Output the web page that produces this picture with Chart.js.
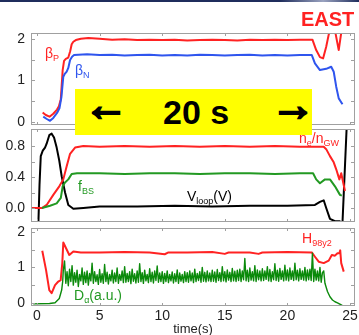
<!DOCTYPE html>
<html>
<head>
<meta charset="utf-8">
<script src="https://cdn.jsdelivr.net/npm/chart.js@4.4.1/dist/chart.umd.min.js"></script>
<style>
    html, body { margin: 0; padding: 0; background: #fff; }
    #wrap { position: relative; width: 359px; height: 335px; overflow: hidden; font-family: "Liberation Sans", Arial, sans-serif; }
    canvas { position: absolute; left: 0; top: 0; }
    .lbl { position: absolute; font-size: 14px; line-height: 14px; white-space: nowrap; }
    .lbl sub { font-size: 9px; vertical-align: -3px; line-height: 0; }
    #topbar { position: absolute; left: 0; top: 0; width: 359px; height: 2px;
              background: linear-gradient(to right, #1f2d5c 0%, #1f2d5c 78%, #9aa3c0 90%, #1f2d5c 100%); }
    #east { position: absolute; left: 301px; top: 9px; color: #ff2222; font-family: "Liberation Sans Narrow", "Liberation Sans", sans-serif;
            font-weight: bold; font-size: 20px; line-height: 20px; }
    #box { position: absolute; left: 75px; top: 89px; width: 237px; height: 46px; background: #ffff00; overflow: hidden; }
    #box span { position: absolute; top: 4px; font-weight: bold; font-size: 34px; line-height: 38px; color: #000; }
    #box span.arr { font-size: 44px; line-height: 44px; top: -6px; -webkit-text-stroke: 2.4px #000; }
</style>
</head>
<body>
<div id="wrap">
    <canvas id="p1" width="359" height="335"></canvas>
    <canvas id="p2" width="359" height="335"></canvas>
    <canvas id="p3" width="359" height="335"></canvas>
    <div id="topbar"></div>
    <div id="east">EAST</div>
    <div id="box">
        <span class="arr" style="left:9px">←</span>
        <span style="left:88px">20 s</span>
        <span class="arr" style="left:196px">→</span>
    </div>
    <div class="lbl" style="left:45px;top:46px;color:#ff2222">β<sub>P</sub></div>
    <div class="lbl" style="left:75px;top:63px;color:#2f55ee">β<sub>N</sub></div>
    <div class="lbl" style="left:78px;top:179px;color:#229922">f<sub>BS</sub></div>
    <div class="lbl" style="left:299px;top:131px;color:#ff2222">n<sub>e</sub>/n<sub>GW</sub></div>
    <div class="lbl" style="left:187px;top:189px;color:#000">V<sub>loop</sub>(V)</div>
    <div class="lbl" style="left:302px;top:231px;color:#ff2222">H<sub>98y2</sub></div>
    <div class="lbl" style="left:74px;top:288px;color:#229922">D<sub>α</sub>(a.u.)</div>
</div>
<script>
    // time axis
    var timeMin = -0.48, timeMax = 25.4;
    var timeTicks = [0, 5, 10, 15, 20, 25];

    // panel 1: beta_p, beta_N
    var betaPTime = [0.45, 0.7, 1.0, 1.3, 1.6, 1.75, 1.9, 1.97, 2.05, 2.16, 2.3, 2.5, 2.65, 2.77, 2.9, 3.1, 3.5, 4.1, 5, 6,
        7, 8, 9, 10, 11, 12, 13, 14, 15, 16, 17, 18, 19, 20, 21, 22, 22.3, 22.6, 22.85, 23.1, 23.3, 23.45, 23.8, 24.1, 24.35];
    var betaPVal = [0.23, 0.17, 0.13, 0.2, 0.3, 0.38, 0.55, 0.87, 1.25, 1.47, 1.52, 1.55, 1.7, 1.87, 1.93, 1.97, 2.0, 2.02, 2.0, 1.98,
        1.99, 1.97, 1.98, 1.97, 1.98, 1.96, 1.97, 1.98, 1.97, 1.96, 1.98, 1.97, 1.98, 1.97, 1.98, 1.98, 1.73, 1.56, 1.53, 1.81, 2.1, 2.25, 2.2, 1.73, 2.25];
    var betaNTime = [0.5, 0.75, 1.04, 1.3, 1.6, 1.8, 1.95, 2.1, 2.2, 2.37, 2.5, 2.64, 2.8, 2.96, 3.3, 4, 5, 6, 7, 8,
        9, 10, 11, 12, 13, 14, 15, 16, 17, 18, 19, 20, 21, 21.95, 22.2, 22.6, 23.1, 23.5, 23.7, 23.9, 24.1, 24.4];
    var betaNVal = [0.13, 0.08, 0.03, 0.1, 0.22, 0.34, 0.6, 1.09, 1.15, 1.21, 1.3, 1.49, 1.57, 1.61, 1.62, 1.63, 1.61, 1.62, 1.6, 1.61,
        1.62, 1.6, 1.61, 1.6, 1.62, 1.61, 1.6, 1.61, 1.62, 1.6, 1.61, 1.6, 1.61, 1.61, 1.41, 1.25, 1.28, 1.33, 1.21, 0.85, 0.57, 0.43];

    // panel 2: Vloop, ne/nGW, fBS
    var vloopTime = [0.1, 0.2, 0.3, 0.46, 0.64, 0.77, 0.98, 1.17, 1.36, 1.57, 1.78, 1.97, 2.24, 2.5, 2.9, 3.7, 5, 8, 11, 14,
        17, 20, 22.2, 22.6, 22.9, 23.1, 23.4, 23.8, 24.15, 24.4, 24.75];
    var vloopVal = [-0.25, 0.3, 0.67, 0.74, 0.78, 0.83, 0.94, 0.96, 0.91, 0.78, 0.61, 0.41, 0.2, 0.04, -0.01, 0.0, 0.02, 0.02, 0.03, 0.02,
        0.03, 0.03, 0.04, 0.08, 0.1, 0.0, -0.14, -0.17, -0.17, -0.19, 1.1];
    var neTime = [-0.4, 0.4, 0.77, 1.3, 1.78, 2.1, 2.37, 2.64, 3.04, 3.7, 5, 7, 9, 11, 13, 15, 17, 19, 21, 22.9,
        23.1, 23.4, 23.7, 23.9, 24.15, 24.3, 24.6];
    var neVal = [0.0, 0.0, 0.04, 0.17, 0.28, 0.37, 0.54, 0.7, 0.78, 0.8, 0.79, 0.8, 0.79, 0.8, 0.79, 0.8, 0.79, 0.8, 0.79, 0.79,
        0.76, 0.67, 0.59, 0.5, 0.37, 0.45, 0.22];
    var fbsTime = [0.4, 1.04, 1.57, 1.9, 2.05, 2.24, 2.5, 2.77, 3.2, 5, 7, 9, 11, 13, 15, 17, 19, 21, 22.05, 22.3,
        22.6, 23.0, 23.4, 23.8, 24.2, 24.35];
    var fbsVal = [0.0, 0.03, 0.06, 0.13, 0.28, 0.33, 0.37, 0.44, 0.45, 0.45, 0.44, 0.45, 0.45, 0.44, 0.45, 0.45, 0.44, 0.45, 0.45, 0.37,
        0.32, 0.37, 0.37, 0.28, 0.17, 0.16];

    // panel 3: H98y2, D-alpha
    var h98Time = [0.42, 0.72, 0.98, 1.17, 1.44, 1.7, 1.89, 2.02, 2.1, 2.32, 2.58, 2.9, 3.5, 5, 7, 9, 10.2, 10.5, 12, 14,
        15, 15.3, 17, 17.7, 18, 20, 21.95, 22.2, 22.5, 22.9, 23.3, 23.55, 23.8, 24.0, 24.15, 24.22, 24.3, 24.5];
    var h98Val = [1.47, 0.93, 0.36, 0.27, 0.5, 0.6, 0.64, 1.12, 1.7, 1.54, 1.35, 1.45, 1.42, 1.42, 1.43, 1.42, 1.37, 1.42, 1.42, 1.43,
        1.38, 1.42, 1.42, 1.38, 1.42, 1.43, 1.42, 1.3, 1.16, 1.12, 1.19, 1.35, 1.33, 1.4, 1.4, 1.48, 1.12, 0.88];
    var daRiseTime = [-0.3, 1.0, 1.44, 1.78, 1.97, 2.05];
    var daRiseVal = [-0.03, -0.02, 0.0, 0.12, 0.36, 0.6];
    var daNoiseStart = 2.1, daNoiseStep = 0.1;   // sampled every 0.1 s
    var daNoiseVal = [
        0.92, 1.18, 0.55, 0.88, 0.48, 0.95, 0.6, 1.05, 0.5, 0.85, 0.58, 0.92, 0.46, 0.8, 0.62, 0.98, 0.52, 0.86, 0.57, 0.9,
        0.5, 0.83, 0.62, 1.12, 0.55, 0.88, 0.6, 0.79, 0.52, 0.94, 0.58, 0.82, 0.55, 1.08, 0.6, 0.86, 0.53, 0.8, 0.62, 0.92,
        0.56, 0.84, 0.6, 0.98, 0.55, 0.8, 0.63, 0.9, 0.57, 1.02, 0.58, 0.83, 0.6, 0.88, 0.54, 0.95, 0.61, 0.82, 0.56, 0.9,
        0.58, 1.1, 0.6, 0.85, 0.55, 0.92, 0.62, 0.8, 0.57, 0.96, 0.6, 0.86, 0.56, 0.9, 0.63, 1.04, 0.58, 0.84, 0.6, 0.88,
        0.55, 0.83, 0.6, 0.9, 0.57, 0.8, 0.62, 0.87, 0.56, 0.82, 0.6, 0.93, 0.55, 0.84, 0.61, 0.8, 0.57, 0.88, 0.6, 0.85,
        0.58, 0.9, 0.62, 0.84, 0.57, 0.95, 0.6, 0.83, 0.63, 0.88, 0.58, 1.0, 0.61, 0.86, 0.59, 0.9, 0.62, 0.84, 0.6, 0.92,
        0.61, 0.87, 0.58, 0.94, 0.63, 0.85, 0.6, 1.02, 0.62, 0.88, 0.59, 0.93, 0.64, 0.86, 0.6, 0.97, 0.62, 0.89, 0.6, 0.92,
        0.63, 0.95, 0.6, 0.9, 0.65, 1.25, 0.62, 0.92, 0.6, 0.98, 0.64, 0.88, 0.62, 1.05, 0.6, 0.93, 0.65, 0.9, 0.62, 0.96,
        0.63, 0.9, 0.66, 1.02, 0.62, 0.94, 0.6, 0.88, 0.65, 1.1, 0.63, 0.92, 0.61, 0.97, 0.66, 0.9, 0.62, 1.06, 0.64, 0.93,
        0.62, 0.98, 0.66, 0.9, 0.63, 1.12, 0.65, 0.92, 0.62, 0.96, 0.66, 0.9, 0.64, 1.0, 0.62, 0.93, 0.65, 0.95, 0.63, 1.4,
        0.6, 0.95, 0.64, 0.9, 0.62, 1.0, 0.58, 0.85, 0.9];
    var daFallTime = [23.0, 23.2, 23.4, 23.6, 23.8, 24.0, 24.3, 24.6];
    var daFallVal = [0.55, 0.32, 0.17, 0.08, 0.03, 0.0, -0.06, -0.12];

    var RED = '#ff2222', BLUE = '#2f55ee', GREEN = '#229922', DGREEN = '#0b8a0b';

    function pts(times, vals) {
        return vals.map(function (v, i) { return { x: times[i], y: v }; });
    }

    function daData() {
        var out = pts(daRiseTime, daRiseVal);
        daNoiseVal.forEach(function (v, i) {
            out.push({ x: +(daNoiseStart + i * daNoiseStep).toFixed(2), y: v });
        });
        return out.concat(pts(daFallTime, daFallVal));
    }

    function line(data, color, width) {
        return { data: data, borderColor: color, borderWidth: width, pointRadius: 0, tension: 0, fill: false,
                 borderJoinStyle: 'round' };
    }

    // frame and inward tick marks, drawn over the data
    var framePlugin = {
        id: 'frame',
        afterDatasetsDraw: function (chart) {
            var ctx = chart.ctx, a = chart.chartArea;
            var xs = chart.scales.x, ys = chart.scales.y;
            ctx.save();
            ctx.strokeStyle = '#a0a0a0';
            ctx.lineWidth = 1;
            ctx.strokeRect(a.left + 0.5, a.top + 0.5, a.right - a.left - 1, a.bottom - a.top - 1);
            ctx.beginPath();
            timeTicks.forEach(function (t) {
                var px = Math.round(xs.getPixelForValue(t)) + 0.5;
                ctx.moveTo(px, a.top); ctx.lineTo(px, a.top + 3);
                ctx.moveTo(px, a.bottom); ctx.lineTo(px, a.bottom - 3);
            });
            chart.options.tickMarks.forEach(function (v) {
                var py = Math.round(ys.getPixelForValue(v)) + 0.5;
                ctx.moveTo(a.left, py); ctx.lineTo(a.left + 4, py);
                ctx.moveTo(a.right, py); ctx.lineTo(a.right - 4, py);
            });
            ctx.stroke();
            ctx.restore();
        }
    };

    function panel(id, datasets, yMin, yMax, marks, labelFn, top, bottom, showTime) {
        return new Chart(document.getElementById(id), {
            type: 'line',
            data: { datasets: datasets },
            options: {
                responsive: false,
                animation: false,
                events: [],
                tickMarks: marks,
                layout: { padding: { top: top, bottom: bottom, left: 0, right: 4 } },
                plugins: { legend: { display: false }, tooltip: { enabled: false } },
                scales: {
                    x: {
                        type: 'linear', min: timeMin, max: timeMax,
                        display: showTime,
                        grid: { display: false, drawTicks: false },
                        border: { display: false },
                        afterBuildTicks: function (s) { s.ticks = timeTicks.map(function (v) { return { value: v }; }); },
                        afterFit: function (s) {
                            s.height = showTime ? 29 : 0;
                            s.paddingLeft = 0; s.paddingRight = 0;
                        },
                        ticks: { padding: 2, color: '#222', font: { family: 'Liberation Sans', size: 14 } },
                        title: { display: true, text: 'time(s)', color: '#222', padding: { top: 0, bottom: -2 },
                                 font: { family: 'Liberation Sans', size: 13 } }
                    },
                    y: {
                        min: yMin, max: yMax,
                        grid: { display: false, drawTicks: false },
                        border: { display: false },
                        afterBuildTicks: function (s) { s.ticks = marks.map(function (v) { return { value: v }; }); },
                        afterFit: function (s) { s.width = 31; s.paddingTop = 0; s.paddingBottom = 0; },
                        ticks: { padding: 6, color: '#222', font: { family: 'Liberation Sans', size: 14 }, callback: labelFn }
                    }
                }
            },
            plugins: [framePlugin]
        });
    }

    function intLabel(v) { return Number.isInteger(v) ? String(v) : ''; }
    function tenthLabel(v) { return (Math.round(v * 10) % 4 === 0) ? v.toFixed(1) : ''; }

    panel('p1', [
        line(pts(betaNTime, betaNVal), BLUE, 2),
        line(pts(betaPTime, betaPVal), RED, 2)
    ], -0.07, 2.14, [0, 0.5, 1, 1.5, 2], intLabel, 33, 210, false);

    panel('p2', [
        line(pts(fbsTime, fbsVal), GREEN, 2),
        line(pts(neTime, neVal), RED, 2),
        line(pts(vloopTime, vloopVal), '#000', 2)
    ], -0.18, 1.02, [0, 0.2, 0.4, 0.6, 0.8], tenthLabel, 129, 113, false);

    panel('p3', [
        line(daData(), DGREEN, 1.4),
        line(pts(h98Time, h98Val), RED, 2)
    ], -0.09, 2.11, [0, 0.5, 1, 1.5, 2], intLabel, 228, 0, true);
</script>
</body>
</html>
